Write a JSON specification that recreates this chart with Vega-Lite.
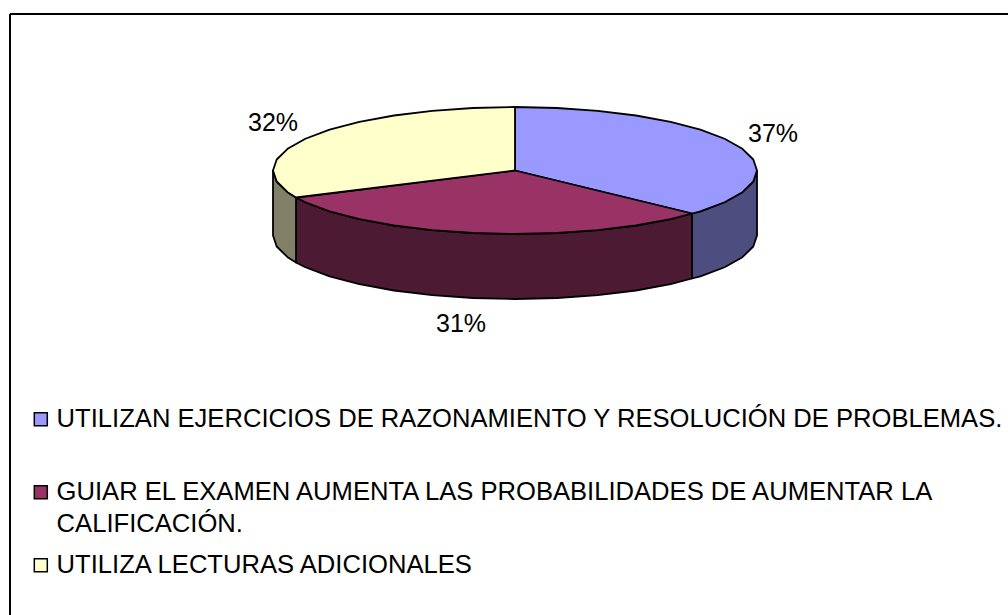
{"$schema":"https://vega.github.io/schema/vega-lite/v6.json","width":998.5,"height":601.5,"autosize":{"type":"none"},"padding":{"left":9.5,"top":13.5,"right":0,"bottom":0},"background":"white","config":{"view":{"stroke":null}},"datasets":{"top":[
{"s":"A","i":0,"x":515,"y":170.5},{"s":"A","i":1,"x":515,"y":107},{"s":"A","i":2,"x":557,"y":108},{"s":"A","i":3,"x":597.8,"y":110.8},{"s":"A","i":4,"x":636,"y":115.5},{"s":"A","i":5,"x":670.6,"y":121.9},{"s":"A","i":6,"x":700.4,"y":129.7},{"s":"A","i":7,"x":724.6,"y":138.75},{"s":"A","i":8,"x":742.4,"y":148.8},{"s":"A","i":9,"x":753.3,"y":159.5},{"s":"A","i":10,"x":757,"y":170.5},{"s":"A","i":11,"x":753.3,"y":181.5},{"s":"A","i":12,"x":742.4,"y":192.2},{"s":"A","i":13,"x":724.6,"y":202.25},{"s":"A","i":14,"x":700.4,"y":211.3},{"s":"A","i":15,"x":692,"y":213.5},{"s":"A","i":16,"x":515,"y":170.5},
{"s":"B","i":0,"x":515,"y":170.5},{"s":"B","i":1,"x":692,"y":213.5},{"s":"B","i":2,"x":670.6,"y":219.1},{"s":"B","i":3,"x":636,"y":225.5},{"s":"B","i":4,"x":597.8,"y":230.2},{"s":"B","i":5,"x":557,"y":233},{"s":"B","i":6,"x":515,"y":234},{"s":"B","i":7,"x":473,"y":233},{"s":"B","i":8,"x":432.2,"y":230.2},{"s":"B","i":9,"x":394,"y":225.5},{"s":"B","i":10,"x":359.4,"y":219.1},{"s":"B","i":11,"x":329.6,"y":211.3},{"s":"B","i":12,"x":305.4,"y":202.25},{"s":"B","i":13,"x":296,"y":197.5},{"s":"B","i":14,"x":515,"y":170.5},
{"s":"C","i":0,"x":515,"y":170.5},{"s":"C","i":1,"x":296,"y":197.5},{"s":"C","i":2,"x":287.6,"y":192.2},{"s":"C","i":3,"x":276.7,"y":181.5},{"s":"C","i":4,"x":273,"y":170.5},{"s":"C","i":5,"x":276.7,"y":159.5},{"s":"C","i":6,"x":287.6,"y":148.8},{"s":"C","i":7,"x":305.4,"y":138.75},{"s":"C","i":8,"x":329.6,"y":129.7},{"s":"C","i":9,"x":359.4,"y":121.9},{"s":"C","i":10,"x":394,"y":115.5},{"s":"C","i":11,"x":432.2,"y":110.8},{"s":"C","i":12,"x":473,"y":108},{"s":"C","i":13,"x":515,"y":107},{"s":"C","i":14,"x":515,"y":170.5}
],"wall":[
{"s":"A","i":0,"x":757,"y":170.5},{"s":"A","i":1,"x":753.3,"y":181.5},{"s":"A","i":2,"x":742.4,"y":192.2},{"s":"A","i":3,"x":724.6,"y":202.25},{"s":"A","i":4,"x":700.4,"y":211.3},{"s":"A","i":5,"x":692,"y":213.5},{"s":"A","i":6,"x":692,"y":278.5},{"s":"A","i":7,"x":700.4,"y":276.3},{"s":"A","i":8,"x":724.6,"y":267.25},{"s":"A","i":9,"x":742.4,"y":257.2},{"s":"A","i":10,"x":753.3,"y":246.5},{"s":"A","i":11,"x":757,"y":235.5},{"s":"A","i":12,"x":757,"y":170.5},
{"s":"B","i":0,"x":692,"y":213.5},{"s":"B","i":1,"x":670.6,"y":219.1},{"s":"B","i":2,"x":636,"y":225.5},{"s":"B","i":3,"x":597.8,"y":230.2},{"s":"B","i":4,"x":557,"y":233},{"s":"B","i":5,"x":515,"y":234},{"s":"B","i":6,"x":473,"y":233},{"s":"B","i":7,"x":432.2,"y":230.2},{"s":"B","i":8,"x":394,"y":225.5},{"s":"B","i":9,"x":359.4,"y":219.1},{"s":"B","i":10,"x":329.6,"y":211.3},{"s":"B","i":11,"x":305.4,"y":202.25},{"s":"B","i":12,"x":296,"y":197.5},{"s":"B","i":13,"x":296,"y":262.5},{"s":"B","i":14,"x":305.4,"y":267.25},{"s":"B","i":15,"x":329.6,"y":276.3},{"s":"B","i":16,"x":359.4,"y":284.1},{"s":"B","i":17,"x":394,"y":290.5},{"s":"B","i":18,"x":432.2,"y":295.2},{"s":"B","i":19,"x":473,"y":298},{"s":"B","i":20,"x":515,"y":299},{"s":"B","i":21,"x":557,"y":298},{"s":"B","i":22,"x":597.8,"y":295.2},{"s":"B","i":23,"x":636,"y":290.5},{"s":"B","i":24,"x":670.6,"y":284.1},{"s":"B","i":25,"x":692,"y":278.5},{"s":"B","i":26,"x":692,"y":213.5},
{"s":"C","i":0,"x":296,"y":197.5},{"s":"C","i":1,"x":287.6,"y":192.2},{"s":"C","i":2,"x":276.7,"y":181.5},{"s":"C","i":3,"x":273,"y":170.5},{"s":"C","i":4,"x":273,"y":235.5},{"s":"C","i":5,"x":276.7,"y":246.5},{"s":"C","i":6,"x":287.6,"y":257.2},{"s":"C","i":7,"x":296,"y":262.5},{"s":"C","i":8,"x":296,"y":197.5}
],"labels":[{"t":"37%","x":773,"y":133.5},{"t":"31%","x":461,"y":323.5},{"t":"32%","x":273,"y":122.5}],"names":[{"s":"A","name":"UTILIZAN EJERCICIOS DE RAZONAMIENTO Y RESOLUCIÓN DE PROBLEMAS."},{"s":"B","name":"GUIAR EL EXAMEN AUMENTA LAS PROBABILIDADES DE AUMENTAR LA CALIFICACIÓN."},{"s":"C","name":"UTILIZA LECTURAS ADICIONALES"}]},
"layer":[
{"data":{"name":"wall"},"mark":{"type":"line","stroke":"black","strokeWidth":1.8,"strokeJoin":"round"},"encoding":{
"x":{"field":"x","type":"quantitative","scale":{"domain":[9.5,1008],"nice":false,"zero":false},"axis":{"orient":"top","title":null,"ticks":false,"labels":false,"grid":false,"domainColor":"black","domainWidth":2}},
"y":{"field":"y","type":"quantitative","scale":{"domain":[13.5,615],"reverse":true,"nice":false,"zero":false},"axis":{"orient":"left","title":null,"ticks":false,"labels":false,"grid":false,"domainColor":"black","domainWidth":2}},
"order":{"field":"i","type":"quantitative"},
"fill":{"field":"s","type":"nominal","scale":{"domain":["A","B","C"],"range":["#4D4D80","#4D1A33","#808066"]},"legend":null}}},
{"data":{"name":"top"},"transform":[{"lookup":"s","from":{"data":{"name":"names"},"key":"s","fields":["name"]}}],"mark":{"type":"line","stroke":"black","strokeWidth":1.8,"strokeJoin":"round"},"encoding":{
"x":{"field":"x","type":"quantitative"},"y":{"field":"y","type":"quantitative"},
"order":{"field":"i","type":"quantitative"},
"fill":{"field":"name","type":"nominal","scale":{"domain":["UTILIZAN EJERCICIOS DE RAZONAMIENTO Y RESOLUCIÓN DE PROBLEMAS.","GUIAR EL EXAMEN AUMENTA LAS PROBABILIDADES DE AUMENTAR LA CALIFICACIÓN.","UTILIZA LECTURAS ADICIONALES"],"range":["#9999FF","#993366","#FFFFCC"]},
"legend":{"title":null,"orient":"none","legendX":18.5,"legendY":393,"symbolType":"square","symbolSize":169,"symbolStrokeColor":"black","symbolStrokeWidth":1.5,"symbolOpacity":1,"labelFont":"Liberation Sans","labelFontSize":25.6,"labelColor":"black","labelLimit":1000,"labelOffset":3,"rowPadding":14,"labelExpr":"split(replace(replace(datum.label,'AUMENTAR LA CALIFICACIÓN','AUMENTAR LA|CALIFICACIÓN'),'PROBLEMAS.','PROBLEMAS.| '),'|')","encoding":{"labels":{"lineHeight":{"value":32}}}}}}},
{"data":{"name":"labels"},"mark":{"type":"text","font":"Liberation Sans","fontSize":25,"color":"black"},"encoding":{"x":{"field":"x","type":"quantitative"},"y":{"field":"y","type":"quantitative"},"text":{"field":"t","type":"nominal"}}}
],"resolve":{"scale":{"fill":"independent"}}}
